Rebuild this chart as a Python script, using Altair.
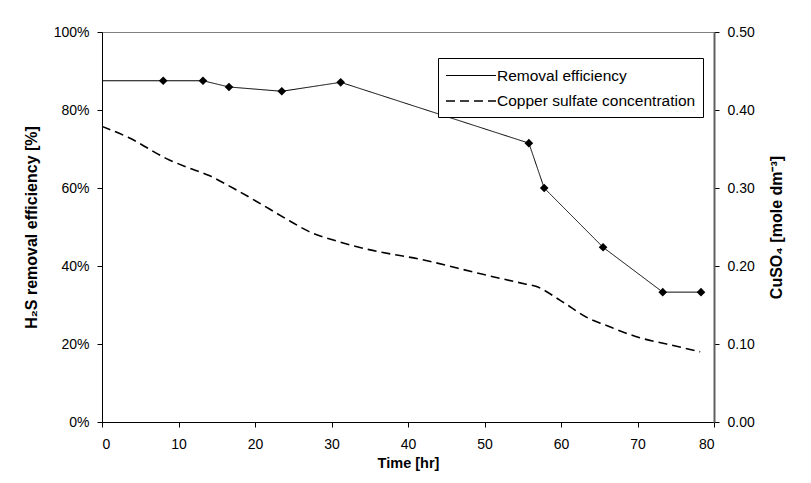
import altair as alt
import pandas as pd

# Removal efficiency (%)
eff_time = [0, 8.0, 13.2, 16.6, 23.5, 31.2, 55.8, 57.8, 65.5, 73.3, 78.3]
eff_value = [87.5, 87.5, 87.5, 85.9, 84.8, 87.1, 71.5, 60.0, 44.8, 33.3, 33.3]
eff_marker = [False, True, True, True, True, True, True, True, True, True, True]

# Copper sulfate concentration (mole dm-3)
cu_time = [0, 3.4, 8.8, 11.0, 14.0, 17.3, 21.9, 24.5, 26.9, 31.0, 34.9, 41.9,
           49.5, 55.3, 56.7, 59.9, 63.8, 65.6, 70.3, 73.8, 78.2]
cu_value = [0.379, 0.365, 0.336, 0.327, 0.316, 0.299, 0.273, 0.258, 0.245, 0.231,
            0.221, 0.208, 0.190, 0.177, 0.174, 0.156, 0.132, 0.125, 0.108, 0.100, 0.090]

series_names = ["Removal efficiency", "Copper sulfate concentration"]

FONT = "Liberation Sans"

eff_df = pd.DataFrame({"t": eff_time, "v": eff_value, "m": eff_marker,
                       "series": series_names[0]})
cu_df = pd.DataFrame({"t": cu_time, "v": cu_value, "series": series_names[1]})

x_enc = alt.X("t:Q", scale=alt.Scale(domain=[0, 80], nice=False),
              axis=alt.Axis(title="Time [hr]", values=list(range(0, 81, 10)),
                            grid=False, domainColor="black", tickColor="black",
                            tickSize=5, labelPadding=10, labelFontSize=14,
                            labelFont=FONT, labelColor="black",
                            titleFont=FONT, titleFontSize=14.5, titleFontWeight="bold",
                            titlePadding=5, titleColor="black"))

left_axis = alt.Axis(title="H₂S removal efficiency [%]", values=[0, 20, 40, 60, 80, 100],
                     labelExpr="datum.value + '%'", grid=False,
                     domainColor="black", tickColor="black", tickSize=5,
                     labelPadding=8, labelFontSize=14, labelFont=FONT,
                     labelColor="black", titleFont=FONT, titleFontSize=16,
                     titleFontWeight="bold", titleColor="black",
                     titleX=-71, titleY=195, titleAngle=270,
                     titleBaseline="middle", titleAlign="center")
left_scale = alt.Scale(domain=[0, 100], nice=False)

dash_scale = alt.Scale(domain=series_names, range=[[1, 0], [9, 5]])
width_scale = alt.Scale(domain=series_names, range=[1, 1.6])

legend = alt.Legend(title=None, orient="none", legendX=336, legendY=26,
                    symbolType="M-1,0H4", symbolSize=400, symbolStrokeColor="black",
                    labelFont=FONT, labelFontSize=15.5, labelColor="black",
                    labelOffset=30, labelLimit=400, padding=7, rowPadding=6,
                    strokeColor="black", fillColor="white", cornerRadius=0)

stroke_dash = alt.StrokeDash("series:N", scale=dash_scale, legend=legend)
stroke_w = alt.StrokeWidth("series:N", scale=width_scale, legend=legend)

eff_line = alt.Chart(eff_df).mark_line(color="black").encode(
    x=x_enc,
    y=alt.Y("v:Q", scale=left_scale, axis=left_axis),
    strokeDash=stroke_dash,
    strokeWidth=stroke_w,
)

eff_pts = alt.Chart(eff_df).transform_filter("datum.m").mark_point(
    shape="diamond", filled=True, size=75, color="black", opacity=1
).encode(
    x=alt.X("t:Q"),
    y=alt.Y("v:Q", scale=left_scale, axis=left_axis),
)

left = alt.layer(eff_line, eff_pts)

cu_line = alt.Chart(cu_df).mark_line(color="black", interpolate="monotone").encode(
    x=alt.X("t:Q"),
    y=alt.Y("v:Q", scale=alt.Scale(domain=[0, 0.5], nice=False),
            axis=alt.Axis(orient="right", title="CuSO₄ [mole dm⁻³]",
                          values=[0, 0.1, 0.2, 0.3, 0.4, 0.5], format=".2f",
                          grid=False, domainColor="#606060", domainWidth=2,
                          tickColor="black", tickSize=5, labelPadding=8,
                          labelFontSize=14, labelFont=FONT, labelColor="black",
                          titleFont=FONT, titleFontSize=16, titleFontWeight="bold",
                          titleColor="black", titleX=62, titleY=195, titleAngle=270,
                          titleBaseline="middle", titleAlign="center")),
    strokeDash=stroke_dash,
    strokeWidth=stroke_w,
)

chart = alt.layer(left, cu_line).resolve_scale(y="independent").properties(
    width=612, height=390,
    autosize=alt.AutoSizeParams(type="none"),
    padding={"left": 94, "top": 24, "right": 85, "bottom": 53},
    background="white",
).configure_view(stroke="#808080", strokeWidth=1)

chart.save("out.html", embed_options={"renderer": "svg", "actions": False})
